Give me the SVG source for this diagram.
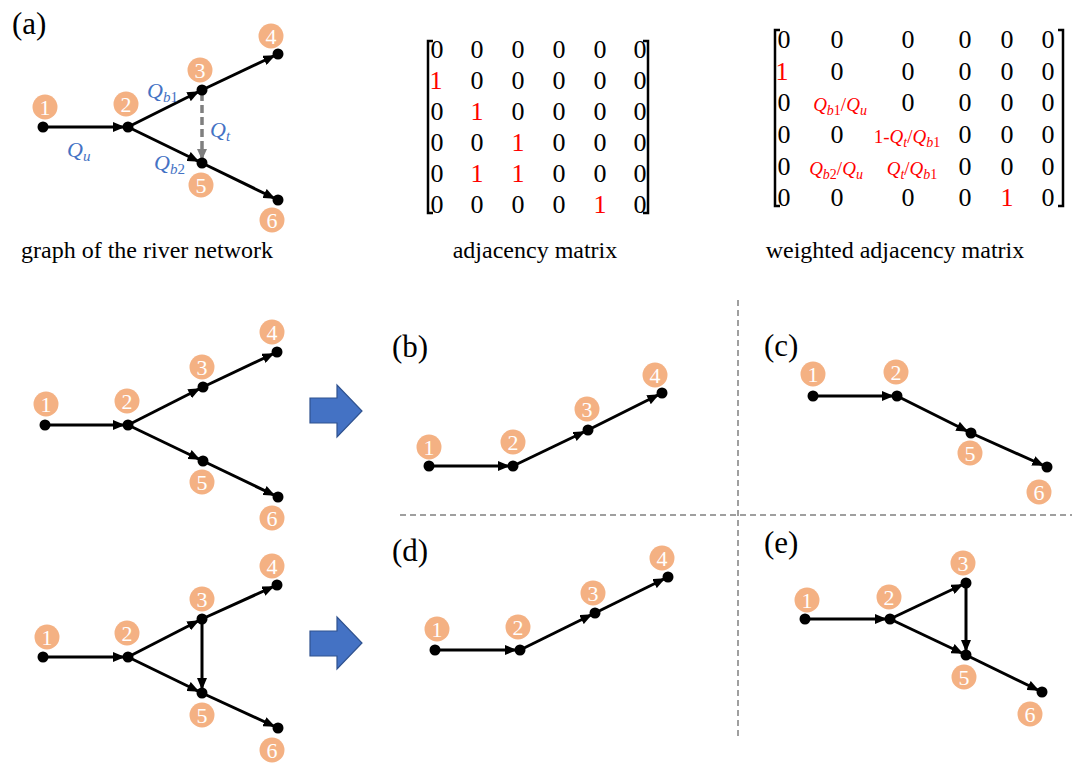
<svg xmlns="http://www.w3.org/2000/svg" width="1076" height="763" viewBox="0 0 1076 763">
<defs>
<marker id="ah" markerUnits="userSpaceOnUse" markerWidth="16" markerHeight="10" refX="15" refY="5" orient="auto"><path d="M0,0 L12,5 L0,10 Z" fill="#000"/></marker>
<marker id="ahg" markerUnits="userSpaceOnUse" markerWidth="16" markerHeight="10" refX="14" refY="5" orient="auto"><path d="M0,0 L11,5 L0,10 Z" fill="#7F7F7F"/></marker>
<style>
text{font-family:"Liberation Serif","Times New Roman","DejaVu Serif",serif}
.dot{fill:#000}
.lbl{fill:#F4B183}
.num{font-size:22px;fill:#fff;text-anchor:middle}
.edge{stroke:#000;stroke-width:3;fill:none;marker-end:url(#ah)}
.dash{stroke:#7F7F7F;stroke-width:3.5;stroke-dasharray:8,4;fill:none;marker-end:url(#ahg)}
.sep{stroke:#808080;stroke-width:1.5;stroke-dasharray:6,4;fill:none}
.mx{font-size:26px;text-anchor:middle;fill:#000}
.mw{font-size:26px;text-anchor:middle;fill:#000}
.rx{font-size:19px;text-anchor:middle;fill:#FF0000}
.red{fill:#FF0000}
.it{font-style:italic}
.q{font-style:italic;fill:#4472C4;font-size:22px}
.cap{font-size:24px;text-anchor:middle;fill:#000}
.pl{font-size:31px;fill:#000}
.br{stroke:#000;stroke-width:2.5;fill:none}
.big{fill:#4472C4;stroke:#2F528F;stroke-width:1.2}
</style>
</defs>
<rect width="1076" height="763" fill="#fff"/>

<!-- panel letters and captions -->
<text class="pl" x="12" y="34">(a)</text>
<text class="pl" x="392" y="357">(b)</text>
<text class="pl" x="764" y="356">(c)</text>
<text class="pl" x="392" y="561">(d)</text>
<text class="pl" x="764" y="553">(e)</text>
<text class="cap" x="147" y="258">graph of the river network</text>
<text class="cap" x="535" y="258">adjacency matrix</text>
<text class="cap" x="895" y="258">weighted adjacency matrix</text>

<!-- separators -->
<g id="separators">
<line class="sep" x1="738" y1="300" x2="738" y2="740"/>
<line class="sep" x1="400" y1="515" x2="1072" y2="515"/>
</g>

<!-- big arrows -->
<g id="arrow-top"><polygon class="big" points="310,398 337,398 337,385 362,411 337,437 337,423 310,423"/></g>
<g id="arrow-bottom"><polygon class="big" points="310,631 337,631 337,617 362,643 337,669 337,656 310,656"/></g>

<!-- adjacency matrix -->
<g id="adjacency-matrix">
<path class="br" d="M433,41 L428,41 L428,213 L433,213"/>
<path class="br" d="M643,41 L648,41 L648,213 L643,213"/>
<text class="mx" y="58"><tspan x="437">0</tspan><tspan x="477">0</tspan><tspan x="518">0</tspan><tspan x="559">0</tspan><tspan x="600">0</tspan><tspan x="640">0</tspan></text>
<text class="mx" y="89"><tspan x="436" class="red">1</tspan><tspan x="477">0</tspan><tspan x="518">0</tspan><tspan x="559">0</tspan><tspan x="600">0</tspan><tspan x="640">0</tspan></text>
<text class="mx" y="120"><tspan x="437">0</tspan><tspan x="477" class="red">1</tspan><tspan x="518">0</tspan><tspan x="559">0</tspan><tspan x="600">0</tspan><tspan x="640">0</tspan></text>
<text class="mx" y="151"><tspan x="437">0</tspan><tspan x="477">0</tspan><tspan x="518" class="red">1</tspan><tspan x="559">0</tspan><tspan x="600">0</tspan><tspan x="640">0</tspan></text>
<text class="mx" y="182"><tspan x="437">0</tspan><tspan x="477" class="red">1</tspan><tspan x="518" class="red">1</tspan><tspan x="559">0</tspan><tspan x="600">0</tspan><tspan x="640">0</tspan></text>
<text class="mx" y="213"><tspan x="437">0</tspan><tspan x="477">0</tspan><tspan x="518">0</tspan><tspan x="559">0</tspan><tspan x="600" class="red">1</tspan><tspan x="640">0</tspan></text>
</g>

<!-- weighted adjacency matrix -->
<g id="weighted-matrix">
<path class="br" d="M780,30 L775,30 L775,206 L780,206"/>
<path class="br" d="M1058,30 L1063,30 L1063,206 L1058,206"/>
<text class="mw" y="48"><tspan x="784">0</tspan><tspan x="837">0</tspan><tspan x="908">0</tspan><tspan x="965">0</tspan><tspan x="1007">0</tspan><tspan x="1048">0</tspan></text>
<text class="mw" y="80"><tspan x="782" class="red">1</tspan><tspan x="837">0</tspan><tspan x="908">0</tspan><tspan x="965">0</tspan><tspan x="1007">0</tspan><tspan x="1048">0</tspan></text>
<text class="mw" y="111"><tspan x="784">0</tspan><tspan x="908">0</tspan><tspan x="965">0</tspan><tspan x="1007">0</tspan><tspan x="1048">0</tspan></text>
<text class="mw" y="143"><tspan x="784">0</tspan><tspan x="837">0</tspan><tspan x="965">0</tspan><tspan x="1007">0</tspan><tspan x="1048">0</tspan></text>
<text class="mw" y="175"><tspan x="784">0</tspan><tspan x="965">0</tspan><tspan x="1007">0</tspan><tspan x="1048">0</tspan></text>
<text class="mw" y="206"><tspan x="784">0</tspan><tspan x="837">0</tspan><tspan x="908">0</tspan><tspan x="965">0</tspan><tspan x="1007" class="red">1</tspan><tspan x="1048">0</tspan></text>
<text class="rx" x="840" y="111"><tspan class="it">Q</tspan><tspan class="it" font-size="14" dy="4">b</tspan><tspan font-size="14">1</tspan><tspan dy="-4">/</tspan><tspan class="it">Q</tspan><tspan class="it" font-size="14" dy="4">u</tspan></text>
<text class="rx" x="907" y="143">1-<tspan class="it">Q</tspan><tspan class="it" font-size="14" dy="4">t</tspan><tspan dy="-4">/</tspan><tspan class="it">Q</tspan><tspan class="it" font-size="14" dy="4">b</tspan><tspan font-size="14">1</tspan></text>
<text class="rx" x="836" y="175"><tspan class="it">Q</tspan><tspan class="it" font-size="14" dy="4">b</tspan><tspan font-size="14">2</tspan><tspan dy="-4">/</tspan><tspan class="it">Q</tspan><tspan class="it" font-size="14" dy="4">u</tspan></text>
<text class="rx" x="912" y="175"><tspan class="it">Q</tspan><tspan class="it" font-size="14" dy="4">t</tspan><tspan dy="-4">/</tspan><tspan class="it">Q</tspan><tspan class="it" font-size="14" dy="4">b</tspan><tspan font-size="14">1</tspan></text>
</g>

<!-- connectors -->
<g id="connectors">
<line class="edge" x1="43" y1="127" x2="128" y2="127"/>
<line class="edge" x1="128" y1="127" x2="202" y2="90"/>
<line class="edge" x1="202" y1="90" x2="278" y2="54"/>
<line class="edge" x1="128" y1="127" x2="202" y2="163"/>
<line class="edge" x1="202" y1="163" x2="278" y2="200"/>
<line class="dash" x1="202" y1="93" x2="202" y2="163"/>
<line class="edge" x1="45" y1="425" x2="128" y2="425"/>
<line class="edge" x1="128" y1="425" x2="203" y2="387"/>
<line class="edge" x1="203" y1="387" x2="277" y2="352"/>
<line class="edge" x1="128" y1="425" x2="203" y2="461"/>
<line class="edge" x1="203" y1="461" x2="278" y2="497"/>
<line class="edge" x1="43" y1="657" x2="128" y2="657"/>
<line class="edge" x1="128" y1="657" x2="202" y2="619"/>
<line class="edge" x1="202" y1="619" x2="277" y2="585"/>
<line class="edge" x1="128" y1="657" x2="202" y2="693"/>
<line class="edge" x1="202" y1="619" x2="202" y2="693"/>
<line class="edge" x1="202" y1="693" x2="278" y2="728"/>
<line class="edge" x1="429" y1="466" x2="513" y2="466"/>
<line class="edge" x1="513" y1="466" x2="588" y2="430"/>
<line class="edge" x1="588" y1="430" x2="662" y2="393"/>
<line class="edge" x1="813" y1="396" x2="897" y2="396"/>
<line class="edge" x1="897" y1="396" x2="971" y2="433"/>
<line class="edge" x1="971" y1="433" x2="1047" y2="467"/>
<line class="edge" x1="435" y1="650" x2="520" y2="650"/>
<line class="edge" x1="520" y1="650" x2="595" y2="613"/>
<line class="edge" x1="595" y1="613" x2="668" y2="577"/>
<line class="edge" x1="805" y1="619" x2="890" y2="619"/>
<line class="edge" x1="890" y1="619" x2="966" y2="583"/>
<line class="edge" x1="890" y1="619" x2="966" y2="655"/>
<line class="edge" x1="966" y1="583" x2="966" y2="655"/>
<line class="edge" x1="966" y1="655" x2="1042" y2="692"/>
</g>

<!-- flow labels panel a -->
<g id="flow-labels">
<text class="q" x="67" y="157">Q<tspan font-size="15" dy="4">u</tspan></text>
<text class="q" x="147" y="98">Q<tspan font-size="15" dy="4">b</tspan><tspan font-size="15" font-style="normal">1</tspan></text>
<text class="q" x="210" y="137">Q<tspan font-size="15" dy="4">t</tspan></text>
<text class="q" x="154" y="170">Q<tspan font-size="15" dy="4">b</tspan><tspan font-size="15" font-style="normal">2</tspan></text>
</g>

<g id="a-n1"><circle class="dot" cx="43" cy="127" r="5.5"/><circle class="lbl" cx="45" cy="107" r="12.5"/><text class="num" x="45" y="114.5">1</text></g>
<g id="a-n2"><circle class="dot" cx="128" cy="127" r="5.5"/><circle class="lbl" cx="126" cy="104" r="12.5"/><text class="num" x="126" y="111.5">2</text></g>
<g id="a-n3"><circle class="dot" cx="202" cy="90" r="5.5"/><circle class="lbl" cx="200" cy="70" r="12.5"/><text class="num" x="200" y="77.5">3</text></g>
<g id="a-n4"><circle class="dot" cx="278" cy="54" r="5.5"/><circle class="lbl" cx="271" cy="36" r="12.5"/><text class="num" x="271" y="43.5">4</text></g>
<g id="a-n5"><circle class="dot" cx="202" cy="163" r="5.5"/><circle class="lbl" cx="201" cy="185" r="12.5"/><text class="num" x="201" y="192.5">5</text></g>
<g id="a-n6"><circle class="dot" cx="278" cy="200" r="5.5"/><circle class="lbl" cx="272" cy="220" r="12.5"/><text class="num" x="272" y="227.5">6</text></g>

<g id="m-n1"><circle class="dot" cx="45" cy="425" r="5.5"/><circle class="lbl" cx="46" cy="404" r="12.5"/><text class="num" x="46" y="411.5">1</text></g>
<g id="m-n2"><circle class="dot" cx="128" cy="425" r="5.5"/><circle class="lbl" cx="127" cy="401" r="12.5"/><text class="num" x="127" y="408.5">2</text></g>
<g id="m-n3"><circle class="dot" cx="203" cy="387" r="5.5"/><circle class="lbl" cx="202" cy="367" r="12.5"/><text class="num" x="202" y="374.5">3</text></g>
<g id="m-n4"><circle class="dot" cx="277" cy="352" r="5.5"/><circle class="lbl" cx="272" cy="332" r="12.5"/><text class="num" x="272" y="339.5">4</text></g>
<g id="m-n5"><circle class="dot" cx="203" cy="461" r="5.5"/><circle class="lbl" cx="202" cy="482" r="12.5"/><text class="num" x="202" y="489.5">5</text></g>
<g id="m-n6"><circle class="dot" cx="278" cy="497" r="5.5"/><circle class="lbl" cx="272" cy="518" r="12.5"/><text class="num" x="272" y="525.5">6</text></g>

<g id="l-n1"><circle class="dot" cx="43" cy="657" r="5.5"/><circle class="lbl" cx="47" cy="637" r="12.5"/><text class="num" x="47" y="644.5">1</text></g>
<g id="l-n2"><circle class="dot" cx="128" cy="657" r="5.5"/><circle class="lbl" cx="127" cy="633" r="12.5"/><text class="num" x="127" y="640.5">2</text></g>
<g id="l-n3"><circle class="dot" cx="202" cy="619" r="5.5"/><circle class="lbl" cx="202" cy="599" r="12.5"/><text class="num" x="202" y="606.5">3</text></g>
<g id="l-n4"><circle class="dot" cx="277" cy="585" r="5.5"/><circle class="lbl" cx="272" cy="566" r="12.5"/><text class="num" x="272" y="573.5">4</text></g>
<g id="l-n5"><circle class="dot" cx="202" cy="693" r="5.5"/><circle class="lbl" cx="202" cy="715" r="12.5"/><text class="num" x="202" y="722.5">5</text></g>
<g id="l-n6"><circle class="dot" cx="278" cy="728" r="5.5"/><circle class="lbl" cx="272" cy="750" r="12.5"/><text class="num" x="272" y="757.5">6</text></g>

<g id="b-n1"><circle class="dot" cx="429" cy="466" r="5.5"/><circle class="lbl" cx="429" cy="447" r="12.5"/><text class="num" x="429" y="454.5">1</text></g>
<g id="b-n2"><circle class="dot" cx="513" cy="466" r="5.5"/><circle class="lbl" cx="513" cy="442" r="12.5"/><text class="num" x="513" y="449.5">2</text></g>
<g id="b-n3"><circle class="dot" cx="588" cy="430" r="5.5"/><circle class="lbl" cx="587" cy="409" r="12.5"/><text class="num" x="587" y="416.5">3</text></g>
<g id="b-n4"><circle class="dot" cx="662" cy="393" r="5.5"/><circle class="lbl" cx="655" cy="375" r="12.5"/><text class="num" x="655" y="382.5">4</text></g>

<g id="c-n1"><circle class="dot" cx="813" cy="396" r="5.5"/><circle class="lbl" cx="813" cy="374" r="12.5"/><text class="num" x="813" y="381.5">1</text></g>
<g id="c-n2"><circle class="dot" cx="897" cy="396" r="5.5"/><circle class="lbl" cx="896" cy="372" r="12.5"/><text class="num" x="896" y="379.5">2</text></g>
<g id="c-n5"><circle class="dot" cx="971" cy="433" r="5.5"/><circle class="lbl" cx="970" cy="453" r="12.5"/><text class="num" x="970" y="460.5">5</text></g>
<g id="c-n6"><circle class="dot" cx="1047" cy="467" r="5.5"/><circle class="lbl" cx="1039" cy="492" r="12.5"/><text class="num" x="1039" y="499.5">6</text></g>

<g id="d-n1"><circle class="dot" cx="435" cy="650" r="5.5"/><circle class="lbl" cx="437" cy="629" r="12.5"/><text class="num" x="437" y="636.5">1</text></g>
<g id="d-n2"><circle class="dot" cx="520" cy="650" r="5.5"/><circle class="lbl" cx="518" cy="627" r="12.5"/><text class="num" x="518" y="634.5">2</text></g>
<g id="d-n3"><circle class="dot" cx="595" cy="613" r="5.5"/><circle class="lbl" cx="593" cy="593" r="12.5"/><text class="num" x="593" y="600.5">3</text></g>
<g id="d-n4"><circle class="dot" cx="668" cy="577" r="5.5"/><circle class="lbl" cx="662" cy="558" r="12.5"/><text class="num" x="662" y="565.5">4</text></g>

<g id="e-n1"><circle class="dot" cx="805" cy="619" r="5.5"/><circle class="lbl" cx="807" cy="600" r="12.5"/><text class="num" x="807" y="607.5">1</text></g>
<g id="e-n2"><circle class="dot" cx="890" cy="619" r="5.5"/><circle class="lbl" cx="889" cy="597" r="12.5"/><text class="num" x="889" y="604.5">2</text></g>
<g id="e-n3"><circle class="dot" cx="966" cy="583" r="5.5"/><circle class="lbl" cx="963" cy="563" r="12.5"/><text class="num" x="963" y="570.5">3</text></g>
<g id="e-n5"><circle class="dot" cx="966" cy="655" r="5.5"/><circle class="lbl" cx="964" cy="677" r="12.5"/><text class="num" x="964" y="684.5">5</text></g>
<g id="e-n6"><circle class="dot" cx="1042" cy="692" r="5.5"/><circle class="lbl" cx="1030" cy="714" r="12.5"/><text class="num" x="1030" y="721.5">6</text></g>
</svg>
